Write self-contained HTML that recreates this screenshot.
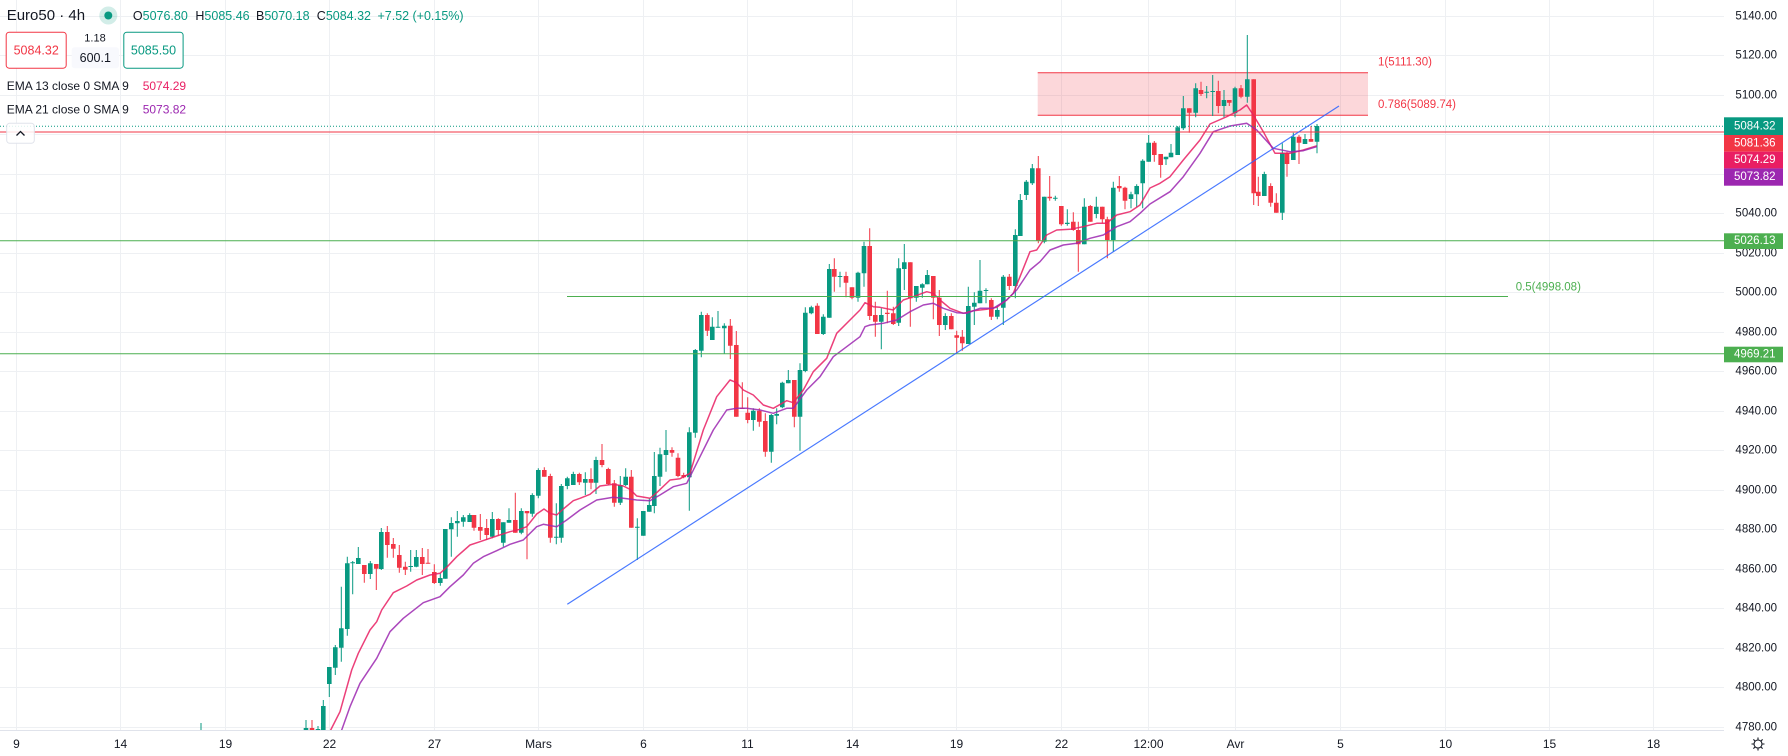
<!DOCTYPE html>
<html><head><meta charset="utf-8">
<style>
html,body{margin:0;padding:0;background:#fff;}
svg{display:block;}
text{font-family:"Liberation Sans",sans-serif;}
</style></head><body>
<svg width="1788" height="756" viewBox="0 0 1788 756" xmlns="http://www.w3.org/2000/svg">
<defs><clipPath id="plot"><rect x="0" y="0" width="1724" height="730"/></clipPath></defs>
<rect width="1788" height="756" fill="#fff"/>
<g stroke="#eef0f3" stroke-width="1">
<path d="M0 16.5H1724M0 55.5H1724M0 95.5H1724M0 134.5H1724M0 174.5H1724M0 213.5H1724M0 253.5H1724M0 292.5H1724M0 332.5H1724M0 371.5H1724M0 411.5H1724M0 450.5H1724M0 490.5H1724M0 529.5H1724M0 569.5H1724M0 608.5H1724M0 648.5H1724M0 687.5H1724M0 727.5H1724"/>
<path d="M16.5 0V730M120.5 0V730M225.5 0V730M329.5 0V730M434.5 0V730M538.5 0V730M643.5 0V730M747.5 0V730M852.5 0V730M956.5 0V730M1061.5 0V730M1148.5 0V730M1235.5 0V730M1340.5 0V730M1445.5 0V730M1549.5 0V730M1653.5 0V730"/>
</g>
<g clip-path="url(#plot)">
<rect x="1037.7" y="72.7" width="330.3" height="42.6" fill="#f23645" fill-opacity="0.2"/>
<path d="M1037.7 72.7H1368M1037.7 115.3H1368" stroke="#f23645" stroke-width="1"/>
<path stroke="#089981" stroke-width="1" fill="none" d="M201 723V730M306 720V731M318 726V731M323.3 700V731M329.3 667V697M335.3 645V675M341.3 586.7V661.7M347.3 556.7V635.7M352.7 561V594.3M358.3 547V564M370.3 561V579M381.3 528V570M410.7 550V571.7M416.3 550V567.3M440.3 573.3V585.7M445.3 529V578.7M451.3 517.3V556.7M457.3 511V536.7M463.3 515V526.7M469.7 513.3V522M492.3 512V538.3M503.3 522.3V546.7M509 508.3V522.7M521.3 508.3V534.3M532.3 493.3V516.7M538.3 468.3V498.3M556.3 503.3V544.3M561.3 484V542.7M567.3 476.7V489.3M573.3 471.7V485M585.3 472.3V495M596 456.7V494M620.3 476V505M625.7 468.3V486M637.3 518.3V560M643.3 511V535.7M649.3 498.3V511.7M654.3 452V513.3M660 447.7V486M666 430V471.7M689.3 427.3V510.7M695.3 349V437.7M701.3 311.7V357.3M712.3 317.3V340M718 311V327.7M724.3 323.3V354M753.3 408.3V430.7M771.3 414V462.7M776.7 408.3V424.3M782.3 381.7V408.3M788.3 370V383.3M800 363.3V450.7M805.3 307.3V372.3M811.3 305.7V314.3M823.3 314.3V335M829.3 264V317.7M840 271.7V287.3M858 271.7V301.7M864 241.7V286.7M881.3 308.3V349.3M898.7 258.3V326M904.3 244V290M916.3 286V301.7M922.3 283.3V297.7M927.3 270V284.3M945.3 313.3V330M968.3 286.7V344M974.3 292.3V325M980 260V303.3M986 288.3V303.3M997.3 305.7V319.3M1003.3 275V325M1015.3 229.3V298.3M1020.3 194V236M1026.3 180V200M1032.3 164V185M1044.3 196.7V243.3M1055.3 195.7V200.7M1067.3 209.3V225.7M1084.3 198.3V244.3M1096.3 196.7V218.3M1113.3 181.7V251.7M1131 191.7V208.3M1136.7 184.3V207.3M1142.7 159.3V208.3M1148.7 135V161.7M1166 156.7V165M1171 144V157.3M1177.7 126V155M1183.3 96V130M1195.7 83.3V117.3M1206.7 86V98.3M1212.7 75V116M1224 90V117.3M1235 86.7V117.3M1247.3 35V102.7M1264.3 171.7V196M1282.3 143.3V220M1293.3 132.7V160M1305 134V144M1317 124V153.3"/>
<path stroke="#f23645" stroke-width="1" fill="none" d="M312 720V731M364.3 565V582.7M376.3 564V590M387.3 526V557.7M393.3 538V557.7M399.3 545V572.7M405.3 561.7V575M422.3 548V575M428 549V563.7M434.3 564.3V584M474 515V530.7M480.3 514V540M486.7 519V540M498.3 518.3V535.7M515.3 492.7V532.7M527 511V559.3M544.3 467.3V476.7M550.3 473.7V542.7M579.3 472.7V485M591 468.3V489.3M602 444V467.3M608.3 467.7V485M614.3 480V506.7M631.3 470V527.7M672 447.3V456.7M678 453.3V477.3M683.7 472.7V478.3M707.3 313.3V336M730.3 319V359M736.3 331V416.7M742.3 382.3V409M747.7 397.3V423.3M759.3 408.3V426.7M765.3 413.3V456.7M794.3 380V427.3M817.3 303.3V334M834.3 258.3V291.7M846 271.7V297.3M852 287.3V299.3M869.7 228.3V320M875.3 301.7V336.7M887.3 290.7V323.3M893.3 306.7V325M910.3 262.3V326.7M933.3 276V319.3M939.3 290V336M951.3 313.3V329.3M956.7 330.7V353.3M962.3 330V350.7M991.3 298.3V320M1009.3 274V290M1038.3 156V243.3M1049.7 176V200.7M1061.3 206V225.7M1073.3 212.3V230.7M1078.3 221.7V271.7M1090.3 205V221.7M1102.3 206.7V223.3M1107.3 216.7V258.3M1119.3 176V191.7M1125 186.7V209.3M1154.3 141V161.7M1160.7 154V177.7M1189.3 108.3V132.7M1201 81.7V96M1218.3 80.7V113.3M1229.3 100V106M1241 85V98.3M1253.7 79.3V205M1258.3 176.7V206M1270.7 183.3V206.7M1276.3 193.3V212.7M1287 151.7V176.7M1299 135V164M1311 126V141.7"/>
<path fill="#089981" d="M303.7 728h4.6v3h-4.6zM315.7 729h4.6v2h-4.6zM321 706h4.6v25h-4.6zM327 667h4.6v17h-4.6zM333 647.3h4.6v20.4h-4.6zM339 628.3h4.6v19.4h-4.6zM345 563.3h4.6v65.7h-4.6zM350.4 562.3h4.6v1h-4.6zM356 558h4.6v6h-4.6zM368 563.3h4.6v10.7h-4.6zM379 532h4.6v37h-4.6zM408.4 566h4.6v1h-4.6zM414 557h4.6v9.7h-4.6zM438 578h4.6v5h-4.6zM443 529h4.6v49.7h-4.6zM449 523h4.6v6.3h-4.6zM455 521h4.6v2.3h-4.6zM461 517.3h4.6v4.4h-4.6zM467.4 515h4.6v7h-4.6zM490 519h4.6v17.7h-4.6zM501 522.3h4.6v20.4h-4.6zM506.7 520h4.6v2.7h-4.6zM519 511h4.6v21.7h-4.6zM530 495h4.6v18.7h-4.6zM536 470h4.6v25.7h-4.6zM554 536.7h4.6v1h-4.6zM559 486h4.6v51.7h-4.6zM565 478.3h4.6v7.7h-4.6zM571 474h4.6v11h-4.6zM583 479h4.6v3.7h-4.6zM593.7 460h4.6v22.7h-4.6zM618 485h4.6v17.7h-4.6zM623.4 476.7h4.6v8.3h-4.6zM635 526.7h4.6v1h-4.6zM641 511h4.6v24.7h-4.6zM647 505h4.6v6.7h-4.6zM652 476h4.6v30h-4.6zM657.7 454.3h4.6v22.4h-4.6zM663.7 450h4.6v5h-4.6zM687 432.3h4.6v45h-4.6zM693 350h4.6v82.7h-4.6zM699 315h4.6v35.7h-4.6zM710 326.7h4.6v13.3h-4.6zM715.7 326.7h4.6v1h-4.6zM722 325.7h4.6v2.6h-4.6zM751 410.7h4.6v9.3h-4.6zM769 415h4.6v36.7h-4.6zM774.4 414h4.6v1.7h-4.6zM780 382.7h4.6v24.6h-4.6zM786 380h4.6v3.3h-4.6zM797.7 370h4.6v46.7h-4.6zM803 312.7h4.6v58.3h-4.6zM809 307.3h4.6v6h-4.6zM821 316.7h4.6v17.3h-4.6zM827 269h4.6v48.7h-4.6zM837.7 276h4.6v1h-4.6zM855.7 272.7h4.6v25h-4.6zM861.7 246h4.6v27.3h-4.6zM879 315h4.6v6.7h-4.6zM896.4 268.3h4.6v54.4h-4.6zM902 262.3h4.6v6.7h-4.6zM914 286h4.6v11.7h-4.6zM920 284.3h4.6v3.4h-4.6zM925 275h4.6v9.3h-4.6zM943 316h4.6v9h-4.6zM966 306h4.6v38h-4.6zM972 302.7h4.6v4h-4.6zM977.7 290.7h4.6v12.6h-4.6zM983.7 290h4.6v1h-4.6zM995 310h4.6v6.7h-4.6zM1001 276.7h4.6v31h-4.6zM1013 235h4.6v51h-4.6zM1018 200h4.6v36h-4.6zM1024 181.7h4.6v13.3h-4.6zM1030 168.3h4.6v15h-4.6zM1042 196.7h4.6v45h-4.6zM1053 197.7h4.6v1h-4.6zM1065 222.7h4.6v1.3h-4.6zM1082 206.7h4.6v37.6h-4.6zM1094 206.7h4.6v7.3h-4.6zM1111 187.7h4.6v52.3h-4.6zM1128.7 194.3h4.6v4.7h-4.6zM1134.4 186h4.6v8.3h-4.6zM1140.4 160.7h4.6v22.6h-4.6zM1146.4 142.7h4.6v19h-4.6zM1163.7 156.7h4.6v2.6h-4.6zM1168.7 152.7h4.6v4.6h-4.6zM1175.4 127.3h4.6v27.7h-4.6zM1181 108.3h4.6v20h-4.6zM1193.4 88.3h4.6v24.4h-4.6zM1204.4 91.7h4.6v1h-4.6zM1210.4 91h4.6v1h-4.6zM1221.7 100h4.6v6h-4.6zM1232.7 88.3h4.6v25h-4.6zM1245 79.3h4.6v17.4h-4.6zM1262 174h4.6v22h-4.6zM1280 152.7h4.6v60h-4.6zM1291 136.7h4.6v23.3h-4.6zM1302.7 139h4.6v5h-4.6zM1314.7 126h4.6v15.7h-4.6z"/>
<path fill="#f23645" d="M309.7 728h4.6v3h-4.6zM362 565h4.6v9h-4.6zM374 564h4.6v4.7h-4.6zM385 532h4.6v13h-4.6zM391 544h4.6v4.7h-4.6zM397 555h4.6v12.7h-4.6zM403 566.7h4.6v3h-4.6zM420 557h4.6v7h-4.6zM425.7 562.7h4.6v1h-4.6zM432 572h4.6v11h-4.6zM471.7 515h4.6v12.7h-4.6zM478 527h4.6v3.7h-4.6zM484.4 528h4.6v7h-4.6zM496 519h4.6v11h-4.6zM513 520h4.6v12.7h-4.6zM524.7 511h4.6v2.3h-4.6zM542 470h4.6v6.7h-4.6zM548 476h4.6v61.7h-4.6zM577 474h4.6v8.3h-4.6zM588.7 479h4.6v3.7h-4.6zM599.7 460h4.6v5h-4.6zM606 469h4.6v15h-4.6zM612 483.3h4.6v19.4h-4.6zM629 476.7h4.6v51h-4.6zM669.7 450h4.6v2.7h-4.6zM675.7 457.7h4.6v18.3h-4.6zM681.4 475h4.6v2.3h-4.6zM705 315h4.6v15.7h-4.6zM728 325.7h4.6v20h-4.6zM734 345h4.6v71.7h-4.6zM740 407.7h4.6v1.3h-4.6zM745.4 412.7h4.6v7.3h-4.6zM757 410.7h4.6v11h-4.6zM763 421h4.6v30.7h-4.6zM792 380h4.6v36.7h-4.6zM815 305.7h4.6v28.3h-4.6zM832 269h4.6v7.7h-4.6zM843.7 276h4.6v6.7h-4.6zM849.7 287.3h4.6v10.4h-4.6zM867.4 246h4.6v70h-4.6zM873 315h4.6v6.7h-4.6zM885 312.7h4.6v1.3h-4.6zM891 313.3h4.6v10.7h-4.6zM908 262.3h4.6v36h-4.6zM931 276h4.6v21.7h-4.6zM937 297.7h4.6v27.3h-4.6zM949 316h4.6v13.3h-4.6zM954.4 335.3h4.6v2.4h-4.6zM960 336.7h4.6v6.6h-4.6zM989 300h4.6v16.7h-4.6zM1007 276.7h4.6v9.3h-4.6zM1036 168.3h4.6v72.4h-4.6zM1047.4 196.7h4.6v1.6h-4.6zM1059 206h4.6v18.3h-4.6zM1071 221.7h4.6v8.3h-4.6zM1076 230h4.6v14.3h-4.6zM1088 206h4.6v15.7h-4.6zM1100 206.7h4.6v12.6h-4.6zM1105 219.3h4.6v20.7h-4.6zM1117 186h4.6v2.3h-4.6zM1122.7 187.7h4.6v13h-4.6zM1152 142.7h4.6v12.3h-4.6zM1158.4 154h4.6v11h-4.6zM1187 108.3h4.6v4.4h-4.6zM1198.7 90h4.6v4h-4.6zM1216 91h4.6v15h-4.6zM1227 100h4.6v2.7h-4.6zM1238.7 88.3h4.6v8.4h-4.6zM1251.4 79.3h4.6v114h-4.6zM1256 191.7h4.6v4.3h-4.6zM1268.4 186h4.6v16.7h-4.6zM1274 202.7h4.6v10h-4.6zM1284.7 152.7h4.6v11.3h-4.6zM1296.7 136.7h4.6v6h-4.6zM1308.7 139h4.6v2.7h-4.6z"/>
<polyline fill="none" stroke="#e91e63" stroke-opacity="0.85" stroke-width="1.5" stroke-linejoin="round" points="327,740 330.7,730 340,711.7 351.7,670 358.3,653.3 370,630 376.7,621.7 381.7,610 393.3,592.7 406.7,586 416.7,580 430,575 440,573.3 446.7,567.3 456.7,556.7 470,545 480,541.7 496.7,536 510,531.7 520,529.3 526.7,526.7 536.7,514 544,509 550,513.3 556.7,515 563.3,509 573.3,500.7 580,498.3 590,494.3 600,486 613.3,484.3 623.3,486 630,489.3 636.7,496 650,498.3 656.7,492.7 670,480 680,478.7 690,473.3 703.3,430 716.7,396.7 730,380 736.7,382.7 743.3,390 753.3,395 763.3,405 773.3,408.3 786.7,400.7 793.3,402.7 803.3,390 813.3,371.7 826.7,358.3 836.7,333.3 850,320 860,310 865,302.7 873.3,306.7 880,307.3 893.3,310 903.3,300 913.3,296.7 926.7,291.7 933.3,293.3 940,300 950,308.3 963.3,313.3 973.3,310.7 986.7,309.3 996.7,307.3 1006.7,300 1013.3,293.3 1020,276.7 1030,251.7 1036.7,250 1046.7,235 1056.7,230 1070,229.3 1083.3,226.7 1096.7,223.3 1106.7,223.3 1116.7,215 1130,211.7 1140,205 1150,188 1160,183.3 1170,176.7 1183.3,160 1200,140 1210,124 1226.7,116.7 1240,110 1246.7,105 1253.3,115 1263.3,131.7 1275,153.3 1290,153.3 1303.3,150 1316.7,145.8"/>
<polyline fill="none" stroke="#9c27b0" stroke-opacity="0.85" stroke-width="1.5" stroke-linejoin="round" points="338,740 341.7,730 350,706.7 360,683.3 376.7,658.3 390,631.7 403.3,618.3 423.3,602.7 440,596.7 450,586.7 463.3,575 473.3,563.3 483.3,556.7 496.7,550.7 510,544.3 523.3,540 536.7,526.7 543.3,524.3 556.7,526.7 566.7,520 580,510 596.7,500 613.3,497.3 623.3,498.3 636.7,500 650,500.7 660,495 673.3,486.7 686.7,483.3 700,456.7 713.3,430 726.7,410 736.7,408.3 746.7,408.3 760,410 773.3,413.3 786.7,408.3 793.3,408.3 806.7,390 820,376.7 833.3,356.7 846.7,346.7 860,336.7 865,326.7 870,325 883.3,323.3 896.7,320 910,311.7 923.3,305 933.3,303.3 943.3,308.3 956.7,312.7 966.7,313.3 980,308.3 993.3,308.3 1006.7,300 1016.7,290 1030,270 1040,261.7 1050,250 1063.3,245 1076.7,243.3 1090,238.3 1103.3,235 1116.7,226.7 1130,221.7 1140,213.3 1150,204 1170,191.7 1183.3,176.7 1200,153.3 1213.3,131.7 1230,126 1246.7,123.3 1256.7,130 1273.3,148.3 1290,151.7 1303.3,150.7 1316.7,146.7"/>
<path d="M0 240.7H1724M0 353.7H1724" stroke="#4caf50" stroke-width="1"/>
<path d="M567 296.5H1508" stroke="#4caf50" stroke-width="1"/>
<path d="M0 126.3H1724" stroke="#089981" stroke-width="1" stroke-dasharray="1 2"/>
<path d="M0 132H1724" stroke="#f23645" stroke-width="1"/>
<line x1="567.3" y1="604.3" x2="1339" y2="106" stroke="#2962ff" stroke-width="1.2" stroke-opacity="0.85"/>
</g>
<g font-size="11.5" fill="#f23645" dominant-baseline="central">
<text x="1378" y="62.7">1(5111.30)</text>
<text x="1378" y="105">0.786(5089.74)</text>
</g>
<text x="1515.7" y="287.3" font-size="11.5" fill="#4caf50" dominant-baseline="central">0.5(4998.08)</text>
<g font-size="11.5" fill="#131722" text-anchor="end" dominant-baseline="central">
<text x="1777" y="16.5">5140.00</text>
<text x="1777" y="55.5">5120.00</text>
<text x="1777" y="95.5">5100.00</text>
<text x="1777" y="134.5">5080.00</text>
<text x="1777" y="174.5">5060.00</text>
<text x="1777" y="213.5">5040.00</text>
<text x="1777" y="253.5">5020.00</text>
<text x="1777" y="292.5">5000.00</text>
<text x="1777" y="332.5">4980.00</text>
<text x="1777" y="371.5">4960.00</text>
<text x="1777" y="411.5">4940.00</text>
<text x="1777" y="450.5">4920.00</text>
<text x="1777" y="490.5">4900.00</text>
<text x="1777" y="529.5">4880.00</text>
<text x="1777" y="569.5">4860.00</text>
<text x="1777" y="608.5">4840.00</text>
<text x="1777" y="648.5">4820.00</text>
<text x="1777" y="687.5">4800.00</text>
<text x="1777" y="727.5">4780.00</text>
</g>
<rect x="1724" y="117.3" width="59" height="17.7" fill="#089981"/>
<rect x="1724" y="135" width="59" height="16.7" fill="#f23645"/>
<rect x="1724" y="151.7" width="59" height="16.7" fill="#e91e63"/>
<rect x="1724" y="168.4" width="59" height="17.3" fill="#9c27b0"/>
<rect x="1724" y="233.3" width="59" height="15.7" fill="#4caf50"/>
<rect x="1724" y="346.7" width="59" height="15.6" fill="#4caf50"/>
<g font-size="11.5" fill="#fff" dominant-baseline="central">
<text x="1734" y="126.3">5084.32</text>
<text x="1734" y="143.4">5081.36</text>
<text x="1734" y="160.1">5074.29</text>
<text x="1734" y="177">5073.82</text>
<text x="1734" y="241.2">5026.13</text>
<text x="1734" y="354.5">4969.21</text>
</g>
<rect x="0" y="730.5" width="1788" height="25.5" fill="#fff"/>
<path d="M0 730.5H1724" stroke="#e0e3eb" stroke-width="1"/>
<g font-size="12" fill="#131722" text-anchor="middle" dominant-baseline="central">
<text x="16.5" y="744">9</text>
<text x="120.5" y="744">14</text>
<text x="225.5" y="744">19</text>
<text x="329.5" y="744">22</text>
<text x="434.5" y="744">27</text>
<text x="538.5" y="744">Mars</text>
<text x="643.5" y="744">6</text>
<text x="747.5" y="744">11</text>
<text x="852.5" y="744">14</text>
<text x="956.5" y="744">19</text>
<text x="1061.5" y="744">22</text>
<text x="1148.5" y="744">12:00</text>
<text x="1235.5" y="744">Avr</text>
<text x="1340.5" y="744">5</text>
<text x="1445.5" y="744">10</text>
<text x="1549.5" y="744">15</text>
<text x="1653.5" y="744">18</text>
</g>
<g stroke="#131722" stroke-width="1.1" fill="none">
<circle cx="1758" cy="744" r="4"/>
<path d="M1758 737.5V739.5M1758 748.5V750.5M1751.5 744H1753.5M1762.5 744H1764.5M1753.4 739.4L1754.8 740.8M1761.2 747.2L1762.6 748.6M1753.4 748.6L1754.8 747.2M1761.2 740.8L1762.6 739.4"/>
</g>
<text x="6.7" y="15.7" font-size="15" fill="#131722" dominant-baseline="central">Euro50 · 4h</text>
<circle cx="108.3" cy="15.5" r="9" fill="#089981" fill-opacity="0.18"/>
<circle cx="108.3" cy="15.5" r="4" fill="#089981"/>
<g font-size="12.5" dominant-baseline="central" fill="#089981">
<text x="132.9" y="16"><tspan fill="#131722">O</tspan>5076.80</text>
<text x="195.4" y="16"><tspan fill="#131722">H</tspan>5085.46</text>
<text x="256" y="16"><tspan fill="#131722">B</tspan>5070.18</text>
<text x="316.8" y="16"><tspan fill="#131722">C</tspan>5084.32</text>
<text x="377.5" y="16">+7.52</text>
<text x="412.5" y="16">(+0.15%)</text>
</g>
<rect x="6.2" y="32.2" width="60" height="36" rx="3" fill="#fff" stroke="#f23645" stroke-width="1"/>
<text x="36.2" y="50.5" font-size="12.5" fill="#f23645" text-anchor="middle" dominant-baseline="central">5084.32</text>
<text x="95" y="38.5" font-size="11" fill="#131722" text-anchor="middle" dominant-baseline="central">1.18</text>
<rect x="71.7" y="47.3" width="47.3" height="21" rx="3" fill="#f8f9fd"/>
<text x="95.3" y="58" font-size="12.5" fill="#131722" text-anchor="middle" dominant-baseline="central">600.1</text>
<rect x="123.8" y="32.2" width="59.3" height="36" rx="3" fill="#fff" stroke="#089981" stroke-width="1"/>
<text x="153.5" y="50.5" font-size="12.5" fill="#089981" text-anchor="middle" dominant-baseline="central">5085.50</text>
<g font-size="12" dominant-baseline="central">
<text x="6.7" y="86" fill="#131722">EMA 13 close 0 SMA 9</text>
<text x="142.7" y="86" fill="#e91e63">5074.29</text>
<text x="6.7" y="109.3" fill="#131722">EMA 21 close 0 SMA 9</text>
<text x="142.7" y="109.3" fill="#9c27b0">5073.82</text>
</g>
<rect x="6.7" y="123.3" width="27.6" height="20" rx="3" fill="#fff" fill-opacity="0.85" stroke="#e0e3eb" stroke-width="1"/>
<polyline points="16.5,135.5 20.5,131.5 24.5,135.5" fill="none" stroke="#131722" stroke-width="1.3"/>
</svg>
</body></html>
